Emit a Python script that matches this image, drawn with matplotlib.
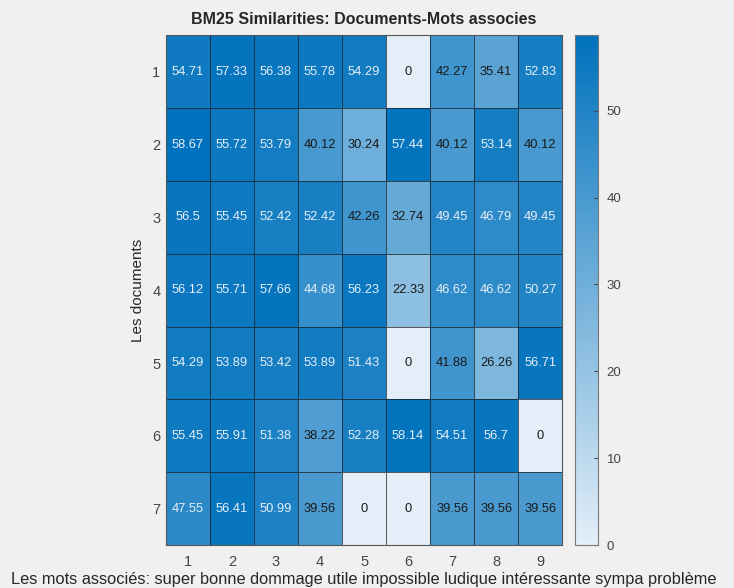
import numpy as np
import matplotlib.pyplot as plt
from matplotlib.colors import LinearSegmentedColormap

plt.rcParams['font.family'] = ['Liberation Sans', 'DejaVu Sans']

# data
docs = ['1', '2', '3', '4', '5', '6', '7']
words = ['1', '2', '3', '4', '5', '6', '7', '8', '9']
row1 = [54.71, 57.33, 56.38, 55.78, 54.29, 0, 42.27, 35.41, 52.83]
row2 = [58.67, 55.72, 53.79, 40.12, 30.24, 57.44, 40.12, 53.14, 40.12]
row3 = [56.5, 55.45, 52.42, 52.42, 42.26, 32.74, 49.45, 46.79, 49.45]
row4 = [56.12, 55.71, 57.66, 44.68, 56.23, 22.33, 46.62, 46.62, 50.27]
row5 = [54.29, 53.89, 53.42, 53.89, 51.43, 0, 41.88, 26.26, 56.71]
row6 = [55.45, 55.91, 51.38, 38.22, 52.28, 58.14, 54.51, 56.7, 0]
row7 = [47.55, 56.41, 50.99, 39.56, 0, 0, 39.56, 39.56, 39.56]

vals = np.array([row1, row2, row3, row4, row5, row6, row7])

# MATLAB-like blue heatmap colormap
cmap = LinearSegmentedColormap.from_list('mblue', ['#e3eef8', '#0072bd'])

fig = plt.figure(figsize=(7.34, 5.88), dpi=100, facecolor='#f0f0f0')
ax = fig.add_axes([0.226, 0.073, 0.540, 0.867])
cax = fig.add_axes([0.783, 0.073, 0.032, 0.867])

mesh = ax.pcolormesh(vals, cmap=cmap, vmin=0, vmax=vals.max(),
                     edgecolors=(0.1, 0.1, 0.1, 0.7), linewidth=0.6)
ax.set_xlim(0, vals.shape[1])
ax.set_ylim(vals.shape[0], 0)

# cell labels
for i in range(vals.shape[0]):
    for j in range(vals.shape[1]):
        v = vals[i, j]
        col = '#e6eef6' if v > 43.5 else '#1a1a1a'
        ax.text(j + 0.5, i + 0.5, '%g' % v, ha='center', va='center',
                fontsize=9.3, color=col)

ax.set_xticks(np.arange(vals.shape[1]) + 0.5)
ax.set_xticklabels(words)
ax.set_yticks(np.arange(vals.shape[0]) + 0.5)
ax.set_yticklabels(docs)
ax.tick_params(length=0, labelsize=10.5, colors='#444444', pad=4)
ax.tick_params(axis='x', pad=7)
for s in ax.spines.values():
    s.set_color('#555555')
    s.set_linewidth(0.8)

ax.set_title('BM25 Similarities: Documents-Mots associes', fontsize=11.5,
             fontweight='bold', color='#262626', pad=8)
ax.set_ylabel('Les documents', fontsize=11, color='#262626', labelpad=5)
ax.set_xlabel('Les mots associés: super bonne dommage utile impossible ludique intéressante sympa problème',
              fontsize=11.8, color='#262626', labelpad=2)

cb = fig.colorbar(mesh, cax=cax)
cb.set_ticks([0, 10, 20, 30, 40, 50])
cb.outline.set_edgecolor('#777777')
cb.outline.set_linewidth(0.8)
cax.tick_params(direction='in', length=3, labelsize=9.5, colors='#444444', pad=6)

fig.savefig('out.png', dpi=100, facecolor=fig.get_facecolor())
